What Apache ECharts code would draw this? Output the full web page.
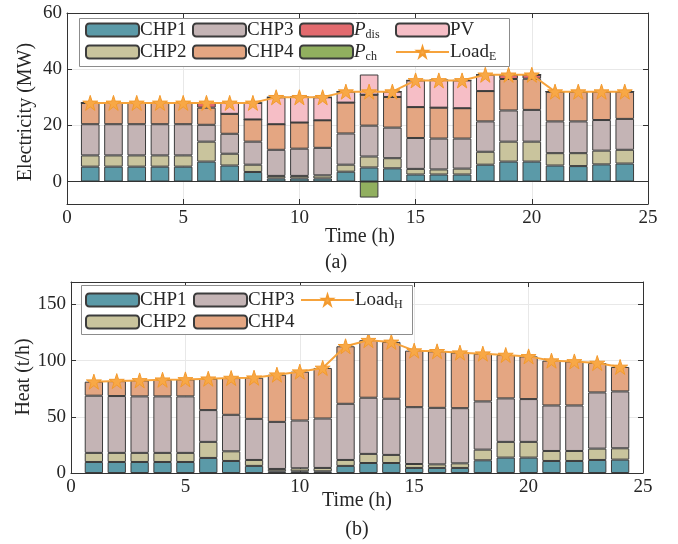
<!DOCTYPE html>
<html><head><meta charset="utf-8">
<script src="https://cdn.jsdelivr.net/npm/echarts@6/dist/echarts.min.js"></script>
<style>html,body{margin:0;padding:0;background:#fff}#c{width:678px;height:544px}</style>
</head><body><div id="c"></div>
<script>
// ---- data ----
const hours = [1,2,3,4,5,6,7,8,9,10,11,12,13,14,15,16,17,18,19,20,21,22,23,24];
const xCats = ['0','1','2','3','4','5','6','7','8','9','10','11','12','13','14','15','16','17','18','19','20','21','22','23','24','25'];
// Electricity (MW)
const eCHP1 = [5.3,5.3,5.3,5.3,5.3,7.1,5.7,3.4,1.1,1.1,1.1,3.5,5.0,4.7,2.5,2.5,2.5,6.0,7.1,7.1,5.7,5.5,6.1,6.4];
const eCHP2 = [4.0,4.0,4.0,4.0,4.0,7.1,4.2,2.6,0.9,0.9,1.1,2.5,3.9,3.6,2.0,1.8,2.1,4.6,7.1,7.1,4.4,4.6,4.9,4.9];
const eCHP3 = [11.1,11.1,11.1,11.1,11.1,6.0,7.1,8.2,9.3,9.7,9.8,11.1,11.0,10.9,11.0,11.0,10.7,10.8,11.1,11.3,11.3,11.3,10.9,11.0];
const eCHP4 = [7.6,7.6,7.6,7.6,7.6,6.1,7.1,7.9,9.1,9.3,9.8,11.0,11.0,10.9,11.0,11.0,10.8,10.8,11.2,11.1,10.6,10.6,10.1,9.7];
const ePdis = [0,0,0,0,0,1.7,0,0,0,0,0,0,0,0,0,0,0,0,1.5,1.4,0,0,0,0];
const ePV   = [0,0,0,0,0,0,3.9,5.9,9.6,9.1,8.2,3.9,7.2,1.9,9.5,9.8,9.9,5.8,0,0,0,0,0,0];
const ePch  = [0,0,0,0,0,0,0,0,0,0,0,0,-5.7,0,0,0,0,0,0,0,0,0,0,0];
const loadE = [28,28,28,28,28,28,28,28,30,30,30,32,32,32,36,36,36,38,38,38,32,32,32,32];
// Heat (t/h)
const hCHP1 = [9.8,9.8,9.8,9.8,9.8,13.4,10.7,6.3,1.5,1.5,1.5,6.3,8.9,8.9,4.5,4.5,4.5,11.3,13.7,13.7,10.7,10.7,11.6,11.9];
const hCHP2 = [8.1,8.1,8.1,8.1,8.1,14.3,8.6,5.3,2.1,2.7,3.0,5.3,8.1,7.2,3.5,3.2,4.1,9.5,14.0,14.0,8.9,8.9,10.1,10.1];
const hCHP3 = [50.9,50.6,50.3,50.3,50.3,28.3,32.5,36.6,41.9,42.5,44.0,50.0,50.0,50.0,50.6,50.3,49.1,42.9,38.7,38.1,40.5,40.5,50.0,50.6];
const hCHP4 = [12.5,13.3,14.2,14.8,15.1,27.9,32.7,36.6,42.0,43.5,45.0,51.2,51.2,50.6,50.3,50.3,49.4,42.5,38.6,38.0,39.9,39.2,26.2,21.8];
const loadH = [81.3,81.8,82.4,83.0,83.3,83.9,84.5,84.8,87.5,90.2,93.5,112.8,118.2,116.7,108.9,108.3,107.1,106.2,105.0,103.8,100.0,99.3,97.9,94.4];
// ticks
const yTicksE = [0,20,40,60];
const yTicksH = [0,50,100,150];

// ---- styles ----
const FONT = 'Liberation Serif';
const TXT = '#262626';
const AX = '#333333';
const GRIDC = '#e8e8e8';
const colors = {CHP1:'#5b9aa8', CHP2:'#c9c49d', CHP3:'#c4b4b5', CHP4:'#e4a682', Pdis:'#e26a6e', Pch:'#91af5f', PV:'#f6bec6'};
const ORANGE = '#f6a33c';
const star = 'path://M50,0L61.2,34.5L97.6,34.5L68.2,55.9L79.4,90.5L50,69.1L20.6,90.5L31.8,55.9L2.4,34.5L38.8,34.5Z';

function pairs(v){ return hours.map((h,i)=>[h, v[i]]); }
function bar(name, vals, ai, bw, stack){
  return {type:'bar', name, stack, xAxisIndex: ai, yAxisIndex: ai, barWidth: bw, data: pairs(vals),
    itemStyle:{color: colors[name], borderColor:'#3c3c3c', borderWidth:1}, emphasis:{disabled:true}, z:2, animation:false};
}
function loadLine(name, vals, ai){
  return {type:'line', name, xAxisIndex: ai, yAxisIndex: ai, data: pairs(vals), symbol: star, symbolSize: 15,
    showSymbol:true, showAllSymbol:true,
    lineStyle:{color: ORANGE, width: 2}, itemStyle:{color:'#f8a846', borderColor:'#f39a2e', borderWidth:1},
    emphasis:{disabled:true}, z:5, animation:false};
}
function xAx(gi, pos, showLabel){
  return {gridIndex: gi, type:'category', data: xCats, boundaryGap:false, position: pos,
    axisLine:{show:true, onZero:false, lineStyle:{color:AX, width:1}},
    axisTick:{show:true, inside:true, length:5, interval:4, lineStyle:{color:AX}},
    axisLabel:{show: showLabel, interval:4, fontFamily: FONT, fontSize: 19, color: TXT, margin: 5},
    splitLine:{show: showLabel, interval:4, lineStyle:{color: GRIDC, width:1}}};
}
function yAx(gi, pos, min, max, ticks, showLabel){
  return {gridIndex: gi, type:'value', min, max, position: pos,
    axisLine:{show:true, onZero:false, lineStyle:{color:AX, width:1}},
    axisTick:{show:true, inside:true, length:5, lineStyle:{color:AX}, customValues: ticks},
    axisLabel:{show: showLabel, customValues: ticks, fontFamily: FONT, fontSize: 19, color: TXT, margin: 5},
    splitLine:{show: showLabel, lineStyle:{color: GRIDC, width:1}}};
}
const legendNames = {CHP1:'CHP1', CHP2:'CHP2', CHP3:'CHP3', CHP4:'CHP4', PV:'PV',
  Pdis:'{i|P}{s|dis}', Pch:'{i|P}{s|ch}', LoadE:'Load{s|E}', LoadH:'Load{s|H}'};
function leg(data, left, top){
  return {data, left, top, orient:'vertical', padding:0, itemGap:0, itemWidth:53, itemHeight:13,
    selectedMode:false, z:20,
    formatter: n => legendNames[n],
    textStyle:{fontFamily: FONT, fontSize: 19, color: TXT, lineHeight: 22, padding:[0,0,0,-4],
      rich:{ i:{fontFamily: FONT, fontSize: 19, fontStyle:'italic', color: TXT, lineHeight:22},
             s:{fontFamily: FONT, fontSize: 12, color: TXT, verticalAlign:'bottom', lineHeight: 13} }}};
}
function txt(x, y, text, rot){
  return {type:'text', x, y, rotation: rot || 0, z: 30,
    style:{text, font:'20px "Liberation Serif"', fill: TXT, textAlign:'center', textVerticalAlign:'middle', align:'center', verticalAlign:'middle'}};
}

const chart = echarts.init(document.getElementById('c'), null, {renderer:'canvas'});
const option = {
  animation:false,
  grid:[{left:67, right:30, top:13, height:191}, {left:71, right:35, top:282, height:191}],
  xAxis:[xAx(0,'bottom',true), xAx(0,'top',false), xAx(1,'bottom',true), xAx(1,'top',false)],
  yAxis:[yAx(0,'left',-8,60,yTicksE,true), yAx(0,'right',-8,60,yTicksE,false),
         yAx(1,'left',0,170,yTicksH,true), yAx(1,'right',0,170,yTicksH,false)],
  legend:[
    leg(['CHP1','CHP2'], 85, 19), leg(['CHP3','CHP4'], 192, 19), leg(['Pdis','Pch'], 299, 19), leg(['PV','LoadE'], 395, 19),
    leg(['CHP1','CHP2'], 85, 289), leg(['CHP3','CHP4'], 193, 289), leg(['LoadH'], 300, 289)
  ],
  graphic:[
    {type:'rect', z:10, shape:{x:79.5, y:18.5, width:430, height:48}, style:{fill:'#fff', stroke:'#8c8c8c', lineWidth:1}},
    {type:'rect', z:10, shape:{x:81.5, y:285.5, width:331, height:49}, style:{fill:'#fff', stroke:'#8c8c8c', lineWidth:1}},
    txt(360, 237, 'Time (h)'), txt(336, 263, '(a)'),
    txt(357, 501, 'Time (h)'), txt(357, 530, '(b)'),
    txt(26, 112, 'Electricity (MW)', Math.PI/2),
    txt(24, 377, 'Heat (t/h)', Math.PI/2)
  ],
  series:[
    Object.assign(bar('CHP1', eCHP1, 0, 18.6, 'e'), {markLine:{silent:true, symbol:'none', label:{show:false}, animation:false,
      lineStyle:{color:'#333', width:1, type:'solid'}, data:[{yAxis:0}]}}),
    bar('CHP2', eCHP2, 0, 18.6, 'e'),
    bar('CHP3', eCHP3, 0, 18.6, 'e'),
    bar('CHP4', eCHP4, 0, 18.6, 'e'),
    bar('Pdis', ePdis, 0, 18.6, 'e'),
    bar('PV', ePV, 0, 18.6, 'e'),
    bar('Pch', ePch, 0, 18.6, 'e'),
    loadLine('LoadE', loadE, 0),
    bar('CHP1', hCHP1, 2, 18.3, 'h'),
    bar('CHP2', hCHP2, 2, 18.3, 'h'),
    bar('CHP3', hCHP3, 2, 18.3, 'h'),
    bar('CHP4', hCHP4, 2, 18.3, 'h'),
    loadLine('LoadH', loadH, 2)
  ]
};
chart.setOption(option);
</script></body></html>
